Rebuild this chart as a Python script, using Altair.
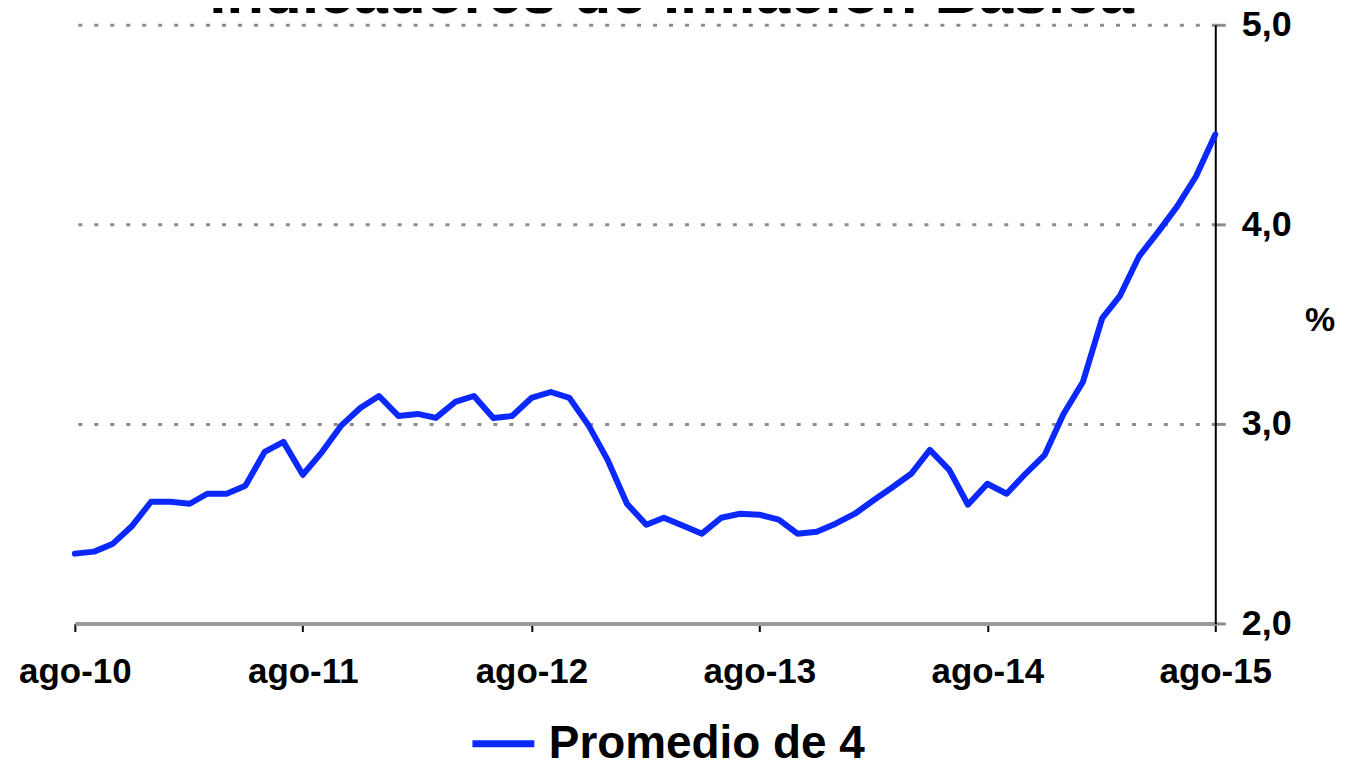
import altair as alt
import pandas as pd

# ---- data ----
meses = pd.date_range("2010-08-01", periods=61, freq="MS").strftime("%Y-%m-%d").tolist()
valores = [
    2.35, 2.36, 2.40, 2.49, 2.61, 2.61, 2.60, 2.65, 2.65, 2.69, 2.86, 2.91,
    2.745, 2.86, 2.99, 3.08, 3.14, 3.04, 3.05, 3.03, 3.11, 3.14, 3.03, 3.04,
    3.13, 3.16, 3.13, 2.99, 2.82, 2.60, 2.495, 2.53, 2.49, 2.45, 2.53, 2.55,
    2.545, 2.52, 2.45, 2.46, 2.50, 2.55, 2.62, 2.68, 2.75, 2.87, 2.77, 2.595,
    2.70, 2.65, 2.75, 2.845, 3.05, 3.21, 3.53, 3.64, 3.84, 3.96, 4.09, 4.24,
    4.45,
]
serie = "Promedio de 4"
anios_ticks = [2010, 2011, 2012, 2013, 2014, 2015]
ticks_y = [2, 3, 4, 5]
titulo = "Indicadores de Inflación Básica"
unidad = "%"

df = pd.DataFrame({"fecha": meses, "valor": valores, "serie": serie})

FONT = "Liberation Sans"
AZUL = "#0A28FF"

x_enc = alt.X(
    "fecha:T",
    scale=alt.Scale(
        type="utc",
        domain=[alt.DateTime(year=2010, month=8, date=1, utc=True),
                alt.DateTime(year=2015, month=8, date=1, utc=True)],
        nice=False,
    ),
    axis=alt.Axis(
        values=[alt.DateTime(year=a, month=8, date=1, utc=True) for a in anios_ticks],
        labelExpr="'ago-' + utcFormat(datum.value, '%y')",
        grid=False,
        domainColor="#9a9a9a", domainWidth=4,
        tickColor="black", tickWidth=2, tickSize=8,
        labelFontSize=35, labelFont=FONT, labelFontWeight="bold", labelColor="black",
        labelPadding=23, labelFlush=False, title=None,
    ),
)

y_enc = alt.Y(
    "valor:Q",
    scale=alt.Scale(domain=[2, 5], nice=False, zero=False),
    axis=alt.Axis(
        orient="right", values=ticks_y,
        labelExpr="replace(format(datum.value, '.1f'), '.', ',')",
        grid=True, gridDash=[4, 12], gridColor="#8c8c8c", gridWidth=3,
        domainColor="black", domainWidth=2,
        tickColor="#8c8c8c", tickWidth=3, tickSize=10,
        labelPadding=16, labelFontSize=36, labelFont=FONT, labelFontWeight="bold",
        labelColor="black", title=None,
    ),
)

linea = alt.Chart(df).mark_line(strokeWidth=6, strokeJoin="round", strokeCap="round").encode(
    x=x_enc,
    y=y_enc,
    color=alt.Color(
        "serie:N",
        scale=alt.Scale(range=[AZUL]),
        legend=alt.Legend(
            orient="none", legendX=395, legendY=686, title=None,
            symbolType="stroke", symbolSize=3844, symbolStrokeWidth=7,
            labelFontSize=46, labelFont=FONT, labelFontWeight="bold", labelColor="black",
            labelOffset=11, labelLimit=0, padding=0,
        ),
    ),
)

titulo_mark = alt.Chart(pd.DataFrame({"t": [titulo]})).mark_text(
    font=FONT, fontSize=62, fontWeight="bold", align="center", baseline="alphabetic", color="black"
).encode(text="t:N", x=alt.value(598), y=alt.value(-12))

unidad_mark = alt.Chart(pd.DataFrame({"t": [unidad]})).mark_text(
    font=FONT, fontSize=34, fontWeight="bold", align="center", baseline="middle", color="black"
).encode(text="t:N", x=alt.value(1248), y=alt.value(297))

chart = alt.layer(linea, titulo_mark, unidad_mark).properties(
    width=1143, height=600,
    padding={"left": 67, "top": 16, "right": 122, "bottom": 140},
    autosize=alt.AutoSizeParams(type="none"),
).configure_view(stroke=None)

chart.save("out.html", embed_options={"renderer": "svg", "actions": False})
